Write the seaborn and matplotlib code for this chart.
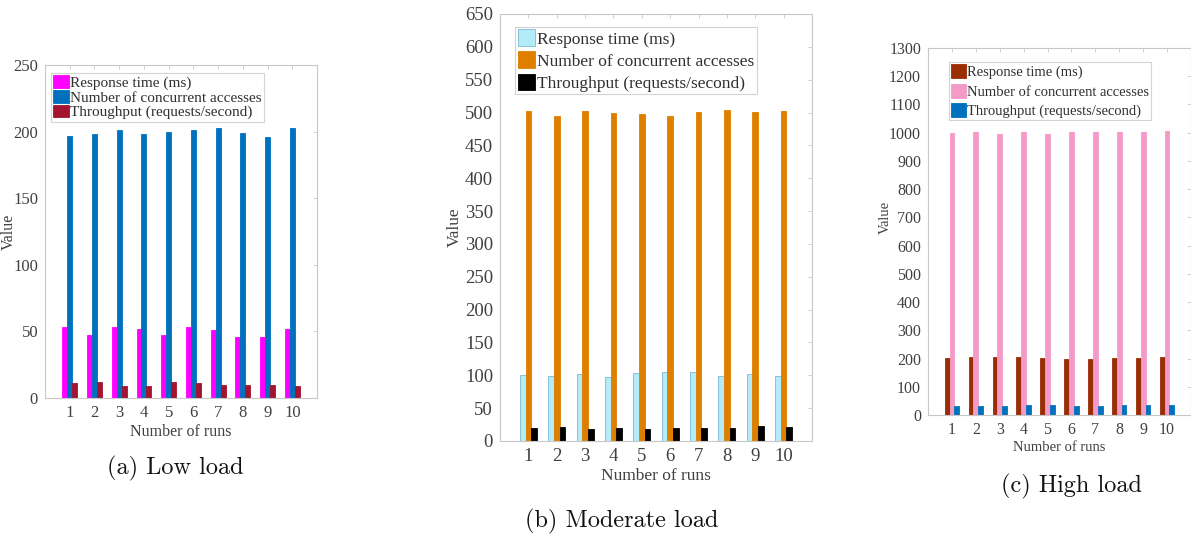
import pandas as pd
import matplotlib
matplotlib.use("Agg")
import matplotlib.pyplot as plt
import seaborn as sns
from matplotlib.patches import Patch

# --- Style: MATLAB-like figure in Times-like serif ---
sns.set_theme(style="white")
plt.rcParams['font.family'] = ['Liberation Serif', 'DejaVu Serif']
plt.rcParams['axes.edgecolor'] = '#c8c8c8'
plt.rcParams['xtick.color'] = '#c8c8c8'
plt.rcParams['ytick.color'] = '#c8c8c8'

# --- Data ---
runs = ['1', '2', '3', '4', '5', '6', '7', '8', '9', '10']
metrics = ['Response time (ms)', 'Number of concurrent accesses', 'Throughput (requests/second)']

low_response = [53, 47, 53, 52, 47, 53, 51, 46, 46, 52]
low_concurrent = [197, 198, 201, 198, 200, 201, 203, 199, 196, 203]
low_throughput = [11, 12, 9, 9, 12, 11, 10, 10, 10, 9]

mod_response = [101, 99.5, 102.5, 97.5, 103.5, 105.5, 104.5, 99, 102.5, 99.5]
mod_concurrent = [502, 494, 502, 499, 498, 495, 501, 504, 501, 503]
mod_throughput = [20, 21.5, 19, 20, 18, 20, 20, 20, 22.5, 21]

high_response = [201, 207, 206, 207, 201, 199, 198, 203, 201, 206]
high_concurrent = [998, 1002, 996, 1004, 996, 1002, 1002, 1004, 1004, 1006]
high_throughput = [32, 33, 32, 35, 34, 32, 33, 35, 35, 35]

low_colors = ['#ff00ff', '#0072bd', '#a2142f']
mod_colors = ['#b3ecf8', '#df7f00', '#000000']
mod_edges = ['#7fb8d0', '#df7f00', '#000000']
high_colors = ['#9b2d05', '#f49ac8', '#0072bd']


def to_long(resp, conc, thr):
    rows = []
    for name, vals in zip(metrics, [resp, conc, thr]):
        for r, v in zip(runs, vals):
            rows.append({'run': r, 'value': v, 'metric': name})
    return pd.DataFrame(rows)


fig = plt.figure(figsize=(11.91, 5.38), dpi=100)

panels = [
    # data, colors, edges, axes rect, ymax, ystep, tick size, label size, legend size,
    # legend spacing, handle height, legend anchor, ylabel x, ylabel y, caption, caption pos
    (to_long(low_response, low_concurrent, low_throughput), low_colors, low_colors,
     [0.0378, 0.2602, 0.2284, 0.619], 250, 50, 12, 11.5, 11, 0.0, 0.9, (0.022, 0.976),
     -0.103, 0.5, '(a) Low load', (0.147, 0.130)),
    (to_long(mod_response, mod_concurrent, mod_throughput), mod_colors, mod_edges,
     [0.4198, 0.1803, 0.262, 0.7937], 650, 50, 13.5, 12.5, 12.5, 0.22, 1.1, (0.048, 0.97),
     -0.119, 0.5, '(b) Moderate load', (0.522, 0.030)),
    (to_long(high_response, high_concurrent, high_throughput), high_colors, high_colors,
     [0.7792, 0.2286, 0.2208, 0.6822], 1300, 100, 11.5, 10.5, 10.5, 0.3, 1.1, (0.08, 0.962),
     -0.137, 0.537, '(c) High load', (0.900, 0.095)),
]

for (df, colors, edges, rect, ymax, ystep, tfs, lfs, gfs, lsp, hh, anchor,
     ylx, yly, caption, cpos) in panels:
    ax = fig.add_axes(rect)
    sns.barplot(data=df, x='run', y='value', hue='metric', palette=colors,
                width=0.6, saturation=1, ax=ax, legend=False)
    for cont, ec in zip(ax.containers, edges):
        for bar in cont:
            bar.set_edgecolor(ec)
            bar.set_linewidth(0.6)
    ax.set_xlim(-1, 10)
    ax.set_ylim(0, ymax)
    ax.set_yticks(range(0, ymax + 1, ystep))
    ax.tick_params(direction='in', top=True, right=True, length=3, width=0.6,
                   labelsize=tfs, labelcolor='#404040', pad=5)
    for s in ax.spines.values():
        s.set_linewidth(0.8)
    ax.set_xlabel('Number of runs', fontsize=lfs, color='#404040', labelpad=2)
    ax.set_ylabel('Value', fontsize=lfs, color='#404040')
    ax.yaxis.set_label_coords(ylx, yly)
    handles = [Patch(facecolor=c, edgecolor=e, linewidth=0.6) for c, e in zip(colors, edges)]
    leg = ax.legend(handles, metrics, loc='upper left', bbox_to_anchor=anchor,
                    borderaxespad=0, fontsize=gfs, frameon=True, fancybox=False,
                    handlelength=1.0, handleheight=hh, handletextpad=0.1,
                    borderpad=0.15, labelspacing=lsp)
    leg.get_frame().set_edgecolor('#c8c8c8')
    leg.get_frame().set_linewidth(0.8)
    for t in leg.get_texts():
        t.set_color('#303030')
    fig.text(cpos[0], cpos[1], caption, family=['cmr10', 'DejaVu Serif'],
             fontsize=17.5, ha='center', va='center', color='#111111')

fig.savefig('out.png', dpi=100)
